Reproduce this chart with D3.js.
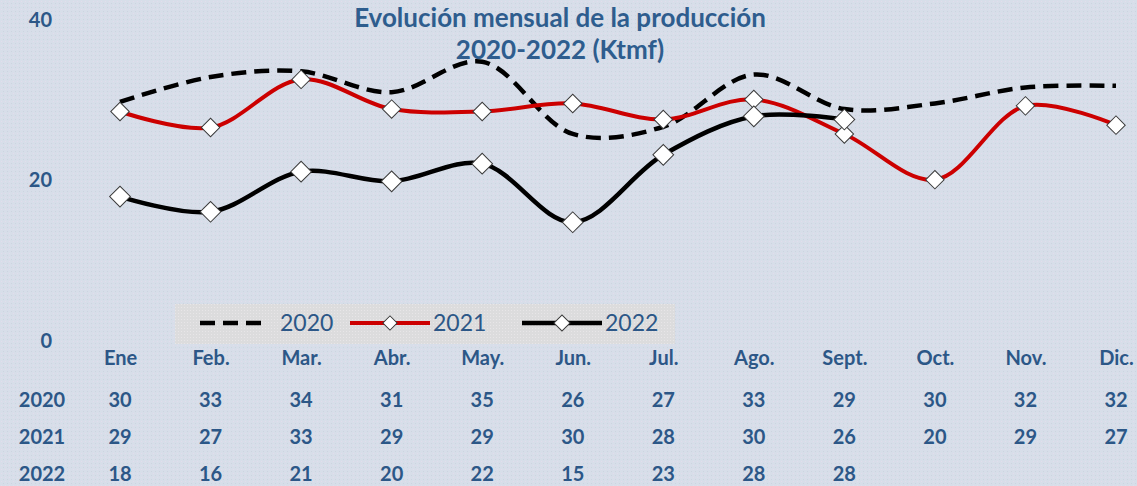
<!DOCTYPE html>
<html>
<head>
<meta charset="utf-8">
<script src="https://cdn.jsdelivr.net/npm/d3@7"></script>
<style>
  html, body { margin: 0; padding: 0; background: #d7dee9; }
  svg { display: block; }
  text { font-family: Lato, "Open Sans", sans-serif; }
</style>
</head>
<body>
<div id="chart"></div>
<script>
// data
const months = ["Ene", "Feb.", "Mar.", "Abr.", "May.", "Jun.", "Jul.", "Ago.", "Sept.", "Oct.", "Nov.", "Dic."];
const years = ["2020", "2021", "2022"];
const values2020 = [29.8, 32.9, 33.6, 31.0, 34.8, 25.8, 26.7, 33.2, 28.9, 29.6, 31.6, 31.8];
const values2021 = [28.6, 26.6, 32.6, 28.9, 28.6, 29.6, 27.6, 30.1, 25.8, 20.1, 29.3, 26.9];
const values2022 = [18.0, 16.1, 21.1, 19.9, 22.1, 14.8, 23.2, 28.0, 27.6];
const yTicks = [0, 20, 40];

const WIDTH = 1137;
const HEIGHT = 486;
const textColor = "#2c5787";

let svg = d3.select("#chart")
    .append("svg")
    .attr("width", WIDTH)
    .attr("height", HEIGHT);

// dotted background like the excel texture
let defs = svg.append("defs");
let pat = defs.append("pattern")
    .attr("id", "dots")
    .attr("width", 4)
    .attr("height", 4)
    .attr("patternUnits", "userSpaceOnUse");
pat.append("rect").attr("width", 4).attr("height", 4).attr("fill", "#d7dee9");
pat.append("rect").attr("x", 1).attr("y", 1).attr("width", 1).attr("height", 1).attr("fill", "#e3dcec");
pat.append("rect").attr("x", 3).attr("y", 3).attr("width", 1).attr("height", 1).attr("fill", "#ccd4e0");

let lpat = defs.append("pattern")
    .attr("id", "ldots")
    .attr("width", 3)
    .attr("height", 3)
    .attr("patternUnits", "userSpaceOnUse");
lpat.append("rect").attr("width", 3).attr("height", 3).attr("fill", "#dcdcdd");
lpat.append("rect").attr("x", 1).attr("y", 1).attr("width", 1).attr("height", 1).attr("fill", "#e8e6e8");

svg.append("rect")
    .attr("width", WIDTH)
    .attr("height", HEIGHT)
    .attr("fill", "url(#dots)");

let x = d3.scalePoint().domain(months).range([120, 1116]);
let y = d3.scaleLinear().domain([0, 40]).range([341, 20]);

// title
let title = svg.append("g")
    .attr("fill", "#2e5d8e")
    .attr("font-weight", "bold")
    .attr("font-size", "26px")
    .attr("text-anchor", "middle");
title.append("text").attr("x", 560).attr("y", 27).text("Evolución mensual de la producción");
title.append("text").attr("x", 560).attr("y", 59).text("2020-2022 (Ktmf)");

// y axis, labels only
let yAxis = svg.append("g")
    .attr("transform", "translate(54,0)")
    .call(d3.axisLeft(y).tickValues(yTicks).tickSize(0).tickPadding(2));
yAxis.select(".domain").remove();
yAxis.selectAll("text")
    .attr("fill", textColor)
    .attr("font-family", "Lato, sans-serif")
    .attr("font-weight", "bold")
    .attr("font-size", "20px");

// legend box
let legend = svg.append("g");
legend.append("rect")
    .attr("x", 175)
    .attr("y", 304)
    .attr("width", 500)
    .attr("height", 40)
    .attr("fill", "url(#ldots)");

let line = d3.line()
    .x((d, i) => x(months[i]))
    .y(d => y(d))
    .curve(d3.curveCatmullRom.alpha(0.5));

let diamond = function (g, cx, cy, size) {
    g.append("path")
        .attr("d", d3.symbol(d3.symbolSquare, size)())
        .attr("transform", `translate(${cx},${cy}) rotate(45)`)
        .attr("fill", "#ffffff")
        .attr("stroke", "#3a3a3a")
        .attr("stroke-width", 1);
}

let series = [
    {name: years[0], values: values2020, color: "#000000", width: 4.5, dash: "15,8", marker: 0},
    {name: years[1], values: values2021, color: "#cc0000", width: 4, dash: null, marker: 170},
    {name: years[2], values: values2022, color: "#000000", width: 4.5, dash: null, marker: 215}
];

let plot = svg.append("g");
series.forEach(s => {
    plot.append("path")
        .datum(s.values)
        .attr("d", line)
        .attr("fill", "none")
        .attr("stroke", s.color)
        .attr("stroke-width", s.width)
        .attr("stroke-dasharray", s.dash);
    if (s.marker) {
        s.values.forEach((v, i) => diamond(plot, x(months[i]), y(v), s.marker));
    }
});

// legend entries
let legendX = [200, 350, 522];
series.forEach((s, i) => {
    let lx = legendX[i];
    let len = i === 0 ? 66 : 80;
    legend.append("line")
        .attr("x1", lx).attr("x2", lx + len)
        .attr("y1", 323).attr("y2", 323)
        .attr("stroke", s.color)
        .attr("stroke-width", s.width)
        .attr("stroke-dasharray", s.dash);
    if (s.marker) diamond(legend, lx + len / 2, 323, s.marker * 0.6);
    legend.append("text")
        .attr("x", lx + len + (i === 0 ? 14 : 3))
        .attr("y", 331)
        .attr("fill", textColor)
        .attr("font-size", "23px")
        .text(s.name);
});

// data table under the chart
let xAxis = svg.append("g")
    .attr("transform", "translate(0,351)")
    .call(d3.axisBottom(x).tickSize(0).tickPadding(0));
xAxis.select(".domain").remove();
xAxis.selectAll("text")
    .attr("fill", textColor)
    .attr("font-family", "Lato, sans-serif")
    .attr("font-weight", "bold")
    .attr("font-size", "20px");

let rowY = [400, 437, 474];
let table = svg.append("g")
    .attr("fill", textColor)
    .attr("font-weight", "bold")
    .attr("font-size", "20px")
    .attr("text-anchor", "middle");
series.forEach((s, r) => {
    table.append("text")
        .attr("x", 42)
        .attr("y", rowY[r])
        .attr("dy", "0.35em")
        .text(s.name);
    s.values.forEach((v, i) => {
        table.append("text")
            .attr("x", x(months[i]))
            .attr("y", rowY[r])
            .attr("dy", "0.35em")
            .text(Math.round(v));
    });
});
</script>
</body>
</html>
